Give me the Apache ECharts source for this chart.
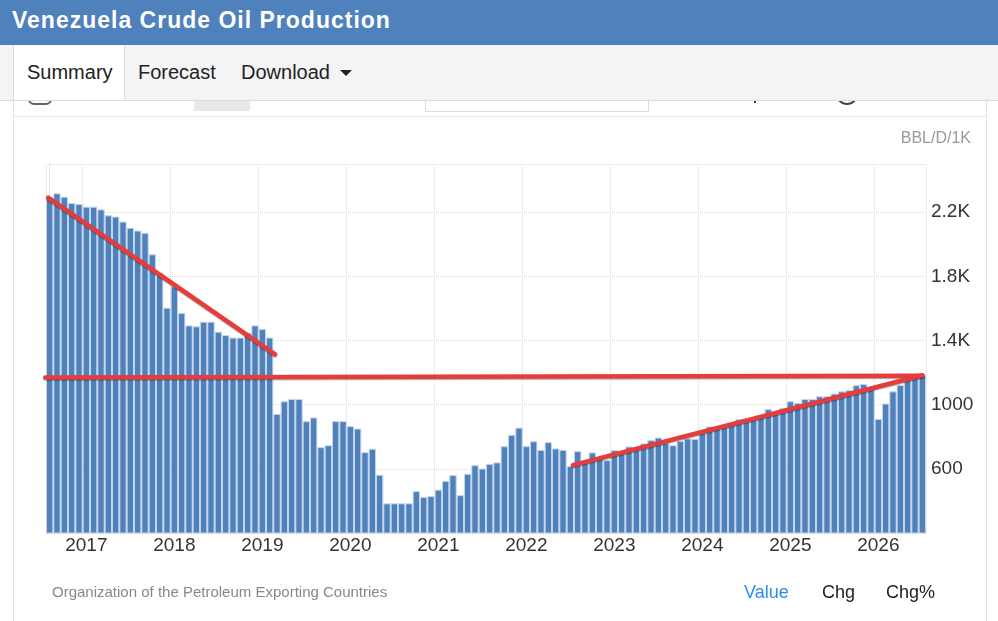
<!DOCTYPE html>
<html>
<head>
<meta charset="utf-8">
<script src="https://cdn.jsdelivr.net/npm/echarts@6/dist/echarts.min.js"></script>
<style>
html,body{margin:0;padding:0;width:998px;height:621px;overflow:hidden;background:#fff;font-family:"Liberation Sans",Arial,sans-serif;}
.abs{position:absolute;}
#hdr{left:0;top:0;width:998px;height:45px;background:#4f81bd;}
#hdr span{position:absolute;left:12px;top:0;line-height:41px;color:#fff;font-weight:bold;font-size:23px;letter-spacing:1px;white-space:nowrap;}
#tabbar{left:0;top:45px;width:998px;height:55px;background:#f4f4f4;border-bottom:1px solid #dcdcdc;z-index:3;}
#tabact{left:13px;top:45px;width:110px;height:55px;background:#fff;border-left:1px solid #dcdcdc;border-right:1px solid #dcdcdc;z-index:4;}
.tab{top:45px;height:55px;line-height:55px;font-size:20px;color:#222;z-index:5;white-space:nowrap;}
#caret{left:340px;top:70px;width:0;height:0;border-left:6px solid transparent;border-right:6px solid transparent;border-top:6px solid #222;z-index:5;}
#tool{left:0;top:101px;width:998px;height:15px;overflow:hidden;z-index:2;}
#sep{left:13px;top:116px;width:973px;height:1px;background:#e6e6e6;z-index:2;}
#pl{left:13px;top:100px;width:1px;height:521px;background:#e2e2e2;z-index:2;}
#pr{left:986px;top:100px;width:1px;height:521px;background:#e2e2e2;z-index:2;}
#unit{left:860px;top:128px;width:111px;text-align:right;font-size:16px;line-height:20px;color:#999;z-index:6;}
#src{left:52px;top:582px;font-size:15px;line-height:20px;color:#888;white-space:nowrap;z-index:6;}
.leg{top:581px;font-size:18px;line-height:22px;color:#222;white-space:nowrap;z-index:6;}
#chart{left:0;top:0;width:998px;height:621px;z-index:1;}
</style>
</head>
<body>
<div id="chart" class="abs"></div>
<div id="hdr" class="abs"><span>Venezuela Crude Oil Production</span></div>
<div id="tabbar" class="abs"></div>
<div id="tabact" class="abs"></div>
<div class="abs tab" style="left:27px">Summary</div>
<div class="abs tab" style="left:138px">Forecast</div>
<div class="abs tab" style="left:241px">Download</div>
<div id="caret" class="abs"></div>
<div id="tool" class="abs">
  <div class="abs" style="left:28px;top:-12px;width:20px;height:12px;border:2px solid #666;border-radius:6px;"></div>
  <div class="abs" style="left:194px;top:0;width:56px;height:10px;background:#e8e8e8;"></div>
  <div class="abs" style="left:425px;top:-6px;width:222px;height:15px;border:1px solid #dcdcdc;"></div>
  <div class="abs" style="left:754px;top:0;width:2px;height:2px;background:#335;"></div>
  <div class="abs" style="left:836px;top:-18px;width:18px;height:18px;border:2px solid #444;border-radius:50%;"></div>
</div>
<div id="sep" class="abs"></div>
<div id="pl" class="abs"></div>
<div id="pr" class="abs"></div>
<div id="unit" class="abs">BBL/D/1K</div>
<div id="src" class="abs">Organization of the Petroleum Exporting Countries</div>
<div class="abs leg" style="left:744px;color:#2d8ceb">Value</div>
<div class="abs leg" style="left:822px">Chg</div>
<div class="abs leg" style="left:886px">Chg%</div>
<script>
// ---- data ----
const months = [
 '2016-08','2016-09','2016-10','2016-11','2016-12',
 '2017-01','2017-02','2017-03','2017-04','2017-05','2017-06','2017-07','2017-08','2017-09','2017-10','2017-11','2017-12',
 '2018-01','2018-02','2018-03','2018-04','2018-05','2018-06','2018-07','2018-08','2018-09','2018-10','2018-11','2018-12',
 '2019-01','2019-02','2019-03','2019-04','2019-05','2019-06','2019-07','2019-08','2019-09','2019-10','2019-11','2019-12',
 '2020-01','2020-02','2020-03','2020-04','2020-05','2020-06','2020-07','2020-08','2020-09','2020-10','2020-11','2020-12',
 '2021-01','2021-02','2021-03','2021-04','2021-05','2021-06','2021-07','2021-08','2021-09','2021-10','2021-11','2021-12',
 '2022-01','2022-02','2022-03','2022-04','2022-05','2022-06','2022-07','2022-08','2022-09','2022-10','2022-11','2022-12',
 '2023-01','2023-02','2023-03','2023-04','2023-05','2023-06','2023-07','2023-08','2023-09','2023-10','2023-11','2023-12',
 '2024-01','2024-02','2024-03','2024-04','2024-05','2024-06','2024-07','2024-08','2024-09','2024-10','2024-11','2024-12',
 '2025-01','2025-02','2025-03','2025-04','2025-05','2025-06','2025-07','2025-08','2025-09','2025-10','2025-11','2025-12',
 '2026-01','2026-02','2026-03','2026-04','2026-05','2026-06','2026-07'
];
const production = [
 2292,2317,2296,2257,2251,
 2234,2234,2217,2180,2172,2141,2102,2085,2071,1937,1822,1604,
 1737,1571,1494,1488,1517,1517,1455,1434,1418,1418,1449,1494,
 1471,1418,942,1021,1035,1035,897,920,735,747,897,897,
 866,851,704,725,563,385,385,385,385,461,424,430,
 470,524,561,436,569,623,602,631,640,741,812,857,
 741,772,718,766,727,718,617,710,640,702,665,654,
 716,710,739,735,758,779,795,762,747,774,789,787,
 824,864,857,870,886,909,905,909,924,972,955,980,
 1021,1011,1035,1035,1052,1052,1069,1083,1090,1121,1129,1100,
 911,1007,1083,1122,1156,1173,1187
];
// hand-drawn trend lines: [bar index position, value]
const declineTrend  = [[-0.2, 2290], [30.75, 1314]];
const levelTrend    = [[-0.6, 1170], [119, 1180]];
const recoveryTrend = [[71.35, 623], [119, 1183]];
const yTicks = {min: 200, max: 2500, step: 400};

const FONT = '"Liberation Sans", Arial, sans-serif';
const isJan = i => months[i].slice(5) === '01';
const trendStyle = {color:'#e63c3c', width:4.5, cap:'round', shadowColor:'rgba(0,0,0,0.35)', shadowBlur:1, shadowOffsetY:1};
function trend(data){
  return {type:'line', xAxisIndex:1, yAxisIndex:0, data:data, symbol:'none', clip:false,
          lineStyle:trendStyle, silent:true, z:5};
}

const chart = echarts.init(document.getElementById('chart'));
chart.setOption({
  animation:false,
  grid:{left:46, right:72, top:164, bottom:88, containLabel:false, outerBoundsMode:'none'},
  xAxis:[{
    type:'category', data:months, boundaryGap:true,
    axisLine:{show:true, lineStyle:{color:'#e4e4e4'}},
    axisTick:{show:false},
    axisLabel:{interval:(i)=>isJan(i), formatter:v=>v.slice(0,4), fontSize:19, color:'#333', margin:3, fontFamily:FONT},
    splitLine:{show:true, interval:(i)=> i===0 || isJan(i), lineStyle:{type:'dotted', color:'#dadada', width:1}}
  },{
    type:'value', min:-0.5, max:months.length-0.5, show:false
  }],
  yAxis:{
    type:'value', position:'right', min:yTicks.min, max:yTicks.max, interval:yTicks.step,
    axisLine:{show:true, lineStyle:{color:'#e4e4e4'}},
    axisTick:{show:true, length:4, lineStyle:{color:'#e4e4e4'}},
    axisLabel:{fontSize:19, color:'#333', margin:5, fontFamily:FONT,
      formatter:v=> (v===yTicks.min || v===yTicks.max) ? '' : (v>=1400 ? (v/1000)+'K' : String(v))},
    splitLine:{show:true, lineStyle:{type:'dotted', color:'#dadada', width:1}}
  },
  series:[
    {type:'bar', data:production, barCategoryGap:'0%', silent:true,
     itemStyle:{color:'#4f81bd', borderColor:'#c4d4ea', borderWidth:1}},
    trend(declineTrend),
    trend(levelTrend),
    trend(recoveryTrend)
  ]
});
</script>
</body>
</html>
